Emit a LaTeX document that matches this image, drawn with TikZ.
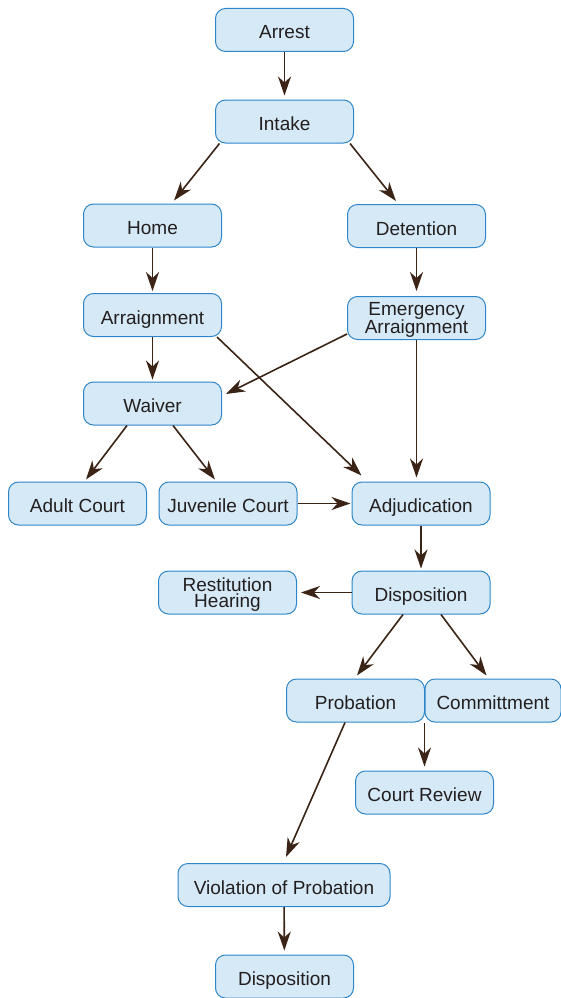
\documentclass[tikz,border=0pt]{standalone}
\usepackage{fontspec}
\setmainfont{Liberation Sans}
\usetikzlibrary{arrows.meta}
\definecolor{boxfill}{HTML}{D6E9F6}
\definecolor{boxline}{HTML}{2E86C8}
\definecolor{arrowcol}{HTML}{3B2416}
\definecolor{textcol}{HTML}{231F20}
\tikzset{
  stagebox/.style={draw=boxline, fill=boxfill, line width=1pt, rounded corners=10pt,
    minimum width=138pt, minimum height=43pt, inner sep=0pt, text=textcol,
    font=\fontsize{19}{16.5}\selectfont, text height=18pt, text depth=0pt},
  twoline/.style={align=center, text height=, text depth=0pt},
  flow/.style={draw=arrowcol, line width=1.6pt,
    -{Stealth[length=19pt,width=13pt,inset=6pt]}}
}
\begin{document}
\begin{tikzpicture}[x=1pt,y=-1pt]
\useasboundingbox (0,0) rectangle (561,998);
\node[stagebox] (arrest) at (284.5,30) {Arrest};
\node[stagebox] (intake) at (284.5,121.5) {Intake};
\node[stagebox] (home) at (152.5,225.5) {Home};
\node[stagebox] (detention) at (416.5,226) {Detention};
\node[stagebox] (arraign) at (152.5,315) {Arraignment};
\node[stagebox, twoline] (emerg) at (416.5,318) {Emergency\\Arraignment};
\node[stagebox] (waiver) at (152.5,403.5) {Waiver};
\node[stagebox] (adult) at (77.5,503.5) {Adult Court};
\node[stagebox] (juvenile) at (228,503.5) {Juvenile Court};
\node[stagebox] (adjud) at (421,503.5) {Adjudication};
\node[stagebox, twoline] (restit) at (227.5,592.5) {Restitution\\Hearing};
\node[stagebox] (dispo) at (421,592.5) {Disposition};
\node[stagebox] (probation) at (355.5,700.5) {Probation};
\node[stagebox, minimum width=136pt] (commit) at (493,700.5) {Committment};
\node[stagebox] (review) at (424.5,792.5) {Court Review};
\node[stagebox, minimum width=212pt] (violation) at (284,885) {Violation of Probation};
\node[stagebox] (dispotwo) at (284.5,976.5) {Disposition};

\draw[flow, shorten >=4pt] (arrest) -- (intake);
\draw[flow] ([xshift=-65pt]intake.south) -- ([xshift=21.5pt,yshift=3pt]home.north);
\draw[flow] ([xshift=65.5pt]intake.south) -- ([xshift=-20.5pt,yshift=3pt]detention.north);
\draw[flow, shorten >=2pt] (home) -- (arraign);
\draw[flow, shorten >=5pt] (detention) -- (emerg);
\draw[flow, shorten >=2pt] (arraign) -- (waiver);
\draw[flow] ([yshift=-16pt]emerg.west) -- ([xshift=4pt,yshift=9.5pt]waiver.east);
\draw[flow] ([xshift=-5pt]arraign.south east) -- ([xshift=10pt,yshift=6pt]adjud.north west);
\draw[flow, shorten >=4pt] (emerg.south) -- (emerg.south |- adjud.north);
\draw[flow] ([xshift=-25.5pt]waiver.south) -- ([xshift=8.5pt,yshift=2pt]adult.north);
\draw[flow] ([xshift=20.5pt]waiver.south) -- ([xshift=-13pt,yshift=2pt]juvenile.north);
\draw[flow, shorten >=1pt] (juvenile) -- (adjud);
\draw[flow, shorten >=2pt] (adjud) -- (dispo);
\draw[flow, shorten >=4pt] (dispo) -- (restit);
\draw[flow] ([xshift=-18pt]dispo.south) -- ([xshift=1.5pt,yshift=3pt]probation.north);
\draw[flow] ([xshift=20pt]dispo.south) -- ([xshift=-6.5pt,yshift=3pt]commit.north);
\draw[flow, shorten >=4pt] (review.north |- commit.south) -- (review.north);
\draw[flow] ([xshift=-10.5pt]probation.south) -- ([xshift=2pt,yshift=6pt]violation.north);
\draw[flow, shorten >=4pt] (violation) -- (dispotwo);
\end{tikzpicture}
\end{document}
